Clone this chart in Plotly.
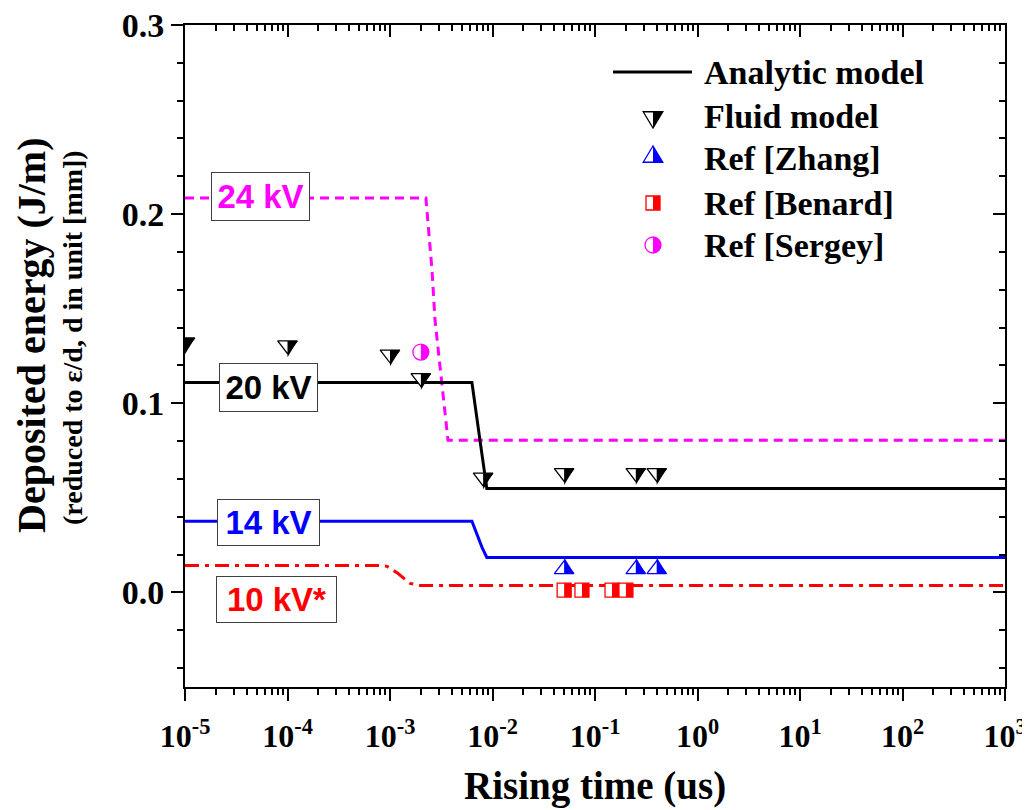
import math
import plotly.graph_objects as go

# ---------------- data ----------------
# Analytic model curves (rising time in us, deposited energy)
x_24kv = [1e-5, 2.24e-3, 2.57e-3, 2.75e-3, 3.68e-3, 1e3]
y_24kv = [0.2085, 0.2085, 0.1704, 0.1439, 0.0804, 0.0804]
x_20kv = [1e-5, 6.3e-3, 7.55e-3, 8.8e-3, 1e3]
y_20kv = [0.111, 0.111, 0.0804, 0.055, 0.055]
x_14kv = [1e-5, 6.3e-3, 7.9e-3, 8.8e-3, 1e3]
y_14kv = [0.0376, 0.0376, 0.0238, 0.0185, 0.0185]
x_10kv = [1e-5, 8.0e-4, 9.35e-4, 1.2e-3, 1.57e-3, 1.96e-3, 1e3]
y_10kv = [0.0143, 0.0143, 0.0138, 0.0100, 0.0048, 0.0037, 0.0037]

# Fluid model and reference points
fluid_x = [1e-5, 1e-4, 1e-3, 2e-3, 8.1e-3, 0.05, 0.25, 0.40]
fluid_y = [0.1323, 0.1307, 0.1259, 0.1134, 0.0608, 0.0632, 0.0632, 0.0632]
zhang_x = [0.05, 0.25, 0.40]
zhang_y = [0.0122, 0.0122, 0.0122]
benard_x = [0.05, 0.0746, 0.1466, 0.2004]
benard_y = [0.0012, 0.0012, 0.0012, 0.0012]
sergey_x = [2.0e-3]
sergey_y = [0.1271]

curve_labels = ["24 kV", "20 kV", "14 kV", "10 kV*"]
legend_labels = ["Analytic model", "Fluid model", "Ref [Zhang]", "Ref [Benard]", "Ref [Sergey]"]

x_tick_vals = [1e-5, 1e-4, 1e-3, 1e-2, 1e-1, 1e0, 1e1, 1e2, 1e3]
x_tick_text = ["10<sup>-5</sup>", "10<sup>-4</sup>", "10<sup>-3</sup>", "10<sup>-2</sup>",
               "10<sup>-1</sup>", "10<sup>0</sup>", "10<sup>1</sup>", "10<sup>2</sup>", "10<sup>3</sup>"]
y_tick_vals = [0.0, 0.1, 0.2, 0.3]
y_tick_text = ["0.0", "0.1", "0.2", "0.3"]

# ---------------- styling ----------------
MAGENTA, BLUE, RED, BLACK = "#FF00FF", "#0000FF", "#FF0000", "#000000"
SERIF = "Liberation Serif"
SANS = "Liberation Sans"

W, H = 1030, 810
OFF = 8  # page body margin of the written html
# plot area on the page: x 185..1005, y 25..687
ML, MT = 185 - OFF, 25 - OFF
MR, MB = W - (1005 - OFF), H - (687 - OFF)
PW, PH = W - ML - MR, H - MT - MB


def px2paper_x(px):
    return (px - OFF - ML) / PW


def px2paper_y(py):
    return (H - MB - (py - OFF)) / PH


# marker geometry (same formulas as plotly symbols, y pointing up)
def tri_down(r):
    rt, r2, rs = r * 2 / math.sqrt(3), r / 2, r * math.sqrt(2)
    full = f"M{-rt:.2f},{r2:.2f} L{rt:.2f},{r2:.2f} L0,{-rs:.2f} Z"
    half = f"M0,{r2:.2f} L{rt:.2f},{r2:.2f} L0,{-rs:.2f} Z"
    return full, half


def tri_up(r):
    rt, r2, rs = r * 2 / math.sqrt(3), r / 2, r * math.sqrt(2)
    full = f"M{-rt:.2f},{-r2:.2f} L{rt:.2f},{-r2:.2f} L0,{rs:.2f} Z"
    half = f"M0,{-r2:.2f} L{rt:.2f},{-r2:.2f} L0,{rs:.2f} Z"
    return full, half


def square(r):
    full = f"M{-r:.2f},{-r:.2f} L{r:.2f},{-r:.2f} L{r:.2f},{r:.2f} L{-r:.2f},{r:.2f} Z"
    half = f"M0,{-r:.2f} L{r:.2f},{-r:.2f} L{r:.2f},{r:.2f} L0,{r:.2f} Z"
    return full, half


def circle(r):
    k = 0.5523 * r
    right = f"C{k:.2f},{r:.2f} {r:.2f},{k:.2f} {r:.2f},0 C{r:.2f},{-k:.2f} {k:.2f},{-r:.2f} 0,{-r:.2f}"
    left = f"C{-k:.2f},{-r:.2f} {-r:.2f},{-k:.2f} {-r:.2f},0 C{-r:.2f},{k:.2f} {-k:.2f},{r:.2f} 0,{r:.2f}"
    full = f"M0,{r:.2f} {right} {left} Z"
    half = f"M0,{r:.2f} {right} Z"
    return full, half


point_sets = [
    # x, y, plotly symbol, size, color, geometry
    (fluid_x, fluid_y, "triangle-down", 17, BLACK, tri_down),
    (zhang_x, zhang_y, "triangle-up", 17, BLUE, tri_up),
    (benard_x, benard_y, "square", 14, RED, square),
    (sergey_x, sergey_y, "circle", 16, MAGENTA, circle),
]

fig = go.Figure()

# analytic curves (main x/y axes)
fig.add_trace(go.Scatter(x=x_24kv, y=y_24kv, mode="lines",
                         line=dict(color=MAGENTA, width=3, dash="9px,6px"), showlegend=False))
fig.add_trace(go.Scatter(x=x_10kv, y=y_10kv, mode="lines",
                         line=dict(color=RED, width=3, dash="14px,6px,4px,6px"), showlegend=False))
fig.add_trace(go.Scatter(x=x_14kv, y=y_14kv, mode="lines",
                         line=dict(color=BLUE, width=3), showlegend=False))
fig.add_trace(go.Scatter(x=x_20kv, y=y_20kv, mode="lines",
                         line=dict(color=BLACK, width=3), showlegend=False))

shapes = []
# points on the overlay (x2/y2, identical scales): hollow outline markers + right half filled
for xs, ys, sym, size, col, geo in point_sets:
    fig.add_trace(go.Scatter(x=xs, y=ys, mode="markers", showlegend=False, xaxis="x2", yaxis="y2",
                             marker=dict(symbol=sym, size=size, color="white",
                                         line=dict(color=col, width=1.3))))
    _, half = geo(size / 2)
    for xv, yv in zip(xs, ys):
        shapes.append(dict(type="path", xref="x2", yref="y2", xsizemode="pixel", ysizemode="pixel",
                           xanchor=xv, yanchor=yv, path=half, fillcolor=col,
                           line=dict(width=0), layer="above"))

# ---------------- manual legend ----------------
legend_rows_px = [72, 116, 158, 203, 245]
legend_marker_px = 653
legend_text_px = 702
shapes.append(dict(type="line", xref="paper", yref="paper",
                   x0=px2paper_x(613), x1=px2paper_x(692),
                   y0=px2paper_y(legend_rows_px[0]), y1=px2paper_y(legend_rows_px[0]),
                   line=dict(color=BLACK, width=3)))
for (xs, ys, sym, size, col, geo), row in zip(point_sets, legend_rows_px[1:]):
    full, half = geo(size / 2)
    shapes.append(dict(type="path", xref="paper", yref="paper", xsizemode="pixel", ysizemode="pixel",
                       xanchor=px2paper_x(legend_marker_px), yanchor=px2paper_y(row), path=full,
                       fillcolor="white", line=dict(color=col, width=1.3)))
    shapes.append(dict(type="path", xref="paper", yref="paper", xsizemode="pixel", ysizemode="pixel",
                       xanchor=px2paper_x(legend_marker_px), yanchor=px2paper_y(row), path=half,
                       fillcolor=col, line=dict(width=0)))

annotations = []
for lbl, row in zip(legend_labels, legend_rows_px):
    annotations.append(dict(text=lbl, xref="paper", yref="paper", x=px2paper_x(legend_text_px),
                            y=px2paper_y(row), xanchor="left", yanchor="middle", showarrow=False,
                            font=dict(family=SERIF, size=34, color=BLACK, weight="bold")))

# curve labels in boxes (center px, box w, h)
label_boxes = [(260.5, 196.5, 97, 47, MAGENTA), (268.5, 387.5, 97, 47, BLACK),
               (268.0, 522.5, 101, 45, BLUE), (276.5, 599.5, 119, 45, RED)]
for lbl, (cx, cy, bw, bh, col) in zip(curve_labels, label_boxes):
    annotations.append(dict(text=lbl, xref="paper", yref="paper", x=px2paper_x(cx), y=px2paper_y(cy),
                            xanchor="center", yanchor="middle", showarrow=False,
                            width=bw, height=bh, borderpad=0, borderwidth=1, bordercolor="#404040",
                            bgcolor="white", align="center", valign="middle",
                            font=dict(family=SANS, size=33, color=col, weight="bold")))

# axis titles
annotations.append(dict(text="Rising time (us)", xref="paper", yref="paper", x=0.5, y=px2paper_y(786),
                        xanchor="center", yanchor="middle", showarrow=False,
                        font=dict(family=SERIF, size=39, color=BLACK, weight="bold")))
annotations.append(dict(text="Deposited energy (J/m)", xref="paper", yref="paper", x=px2paper_x(31),
                        y=px2paper_y(336), xanchor="center", yanchor="middle", textangle=-90,
                        showarrow=False, font=dict(family=SERIF, size=40, color=BLACK, weight="bold")))
annotations.append(dict(text="(reduced to ε/d, d in unit [mm])", xref="paper", yref="paper",
                        x=px2paper_x(72), y=px2paper_y(337), xanchor="center", yanchor="middle",
                        textangle=-90, showarrow=False,
                        font=dict(family=SERIF, size=28, color=BLACK, weight="bold")))

x_minor = [m * 10.0 ** e for e in range(-5, 3) for m in range(2, 10)]
y_minor = [round(-0.04 + 0.02 * i, 2) for i in range(18) if round((-0.04 + 0.02 * i) * 10, 6) % 1 != 0]

axis_common = dict(showgrid=False, zeroline=False, showline=True, linecolor=BLACK, linewidth=2,
                   tickcolor=BLACK, tickwidth=2, ticklen=12, automargin=False)

fig.update_layout(
    width=W, height=H,
    margin=dict(l=ML, r=MR, t=MT, b=MB, autoexpand=False),
    paper_bgcolor="white", plot_bgcolor="white",
    showlegend=False,
    xaxis=dict(type="log", range=[-5, 3], tickmode="array", tickvals=x_tick_vals, ticktext=x_tick_text,
               ticks="outside", ticklabelstandoff=8, ticklabeloverflow="allow",
               tickfont=dict(family=SERIF, size=32, color=BLACK, weight="bold"),
               minor=dict(tickvals=x_minor, ticks="outside", ticklen=6, tickwidth=2, tickcolor=BLACK),
               **axis_common),
    yaxis=dict(range=[-0.05, 0.3], tickmode="array", tickvals=y_tick_vals, ticktext=y_tick_text,
               ticks="outside", ticklabeloverflow="allow",
               tickfont=dict(family=SERIF, size=34, color=BLACK, weight="bold"),
               minor=dict(tickvals=y_minor, ticks="outside", ticklen=6, tickwidth=2, tickcolor=BLACK),
               **axis_common),
    xaxis2=dict(type="log", range=[-5, 3], overlaying="x", side="top", anchor="y2",
                tickmode="array", tickvals=x_tick_vals, ticks="inside", showticklabels=False,
                minor=dict(tickvals=x_minor, ticks="inside", ticklen=6, tickwidth=2, tickcolor=BLACK),
                **axis_common),
    yaxis2=dict(range=[-0.05, 0.3], overlaying="y", side="right", anchor="x2",
                tickmode="array", tickvals=y_tick_vals, ticks="inside", showticklabels=False,
                minor=dict(tickvals=y_minor, ticks="inside", ticklen=6, tickwidth=2, tickcolor=BLACK),
                **axis_common),
    shapes=shapes,
    annotations=annotations,
)

fig.write_html("out.html")
